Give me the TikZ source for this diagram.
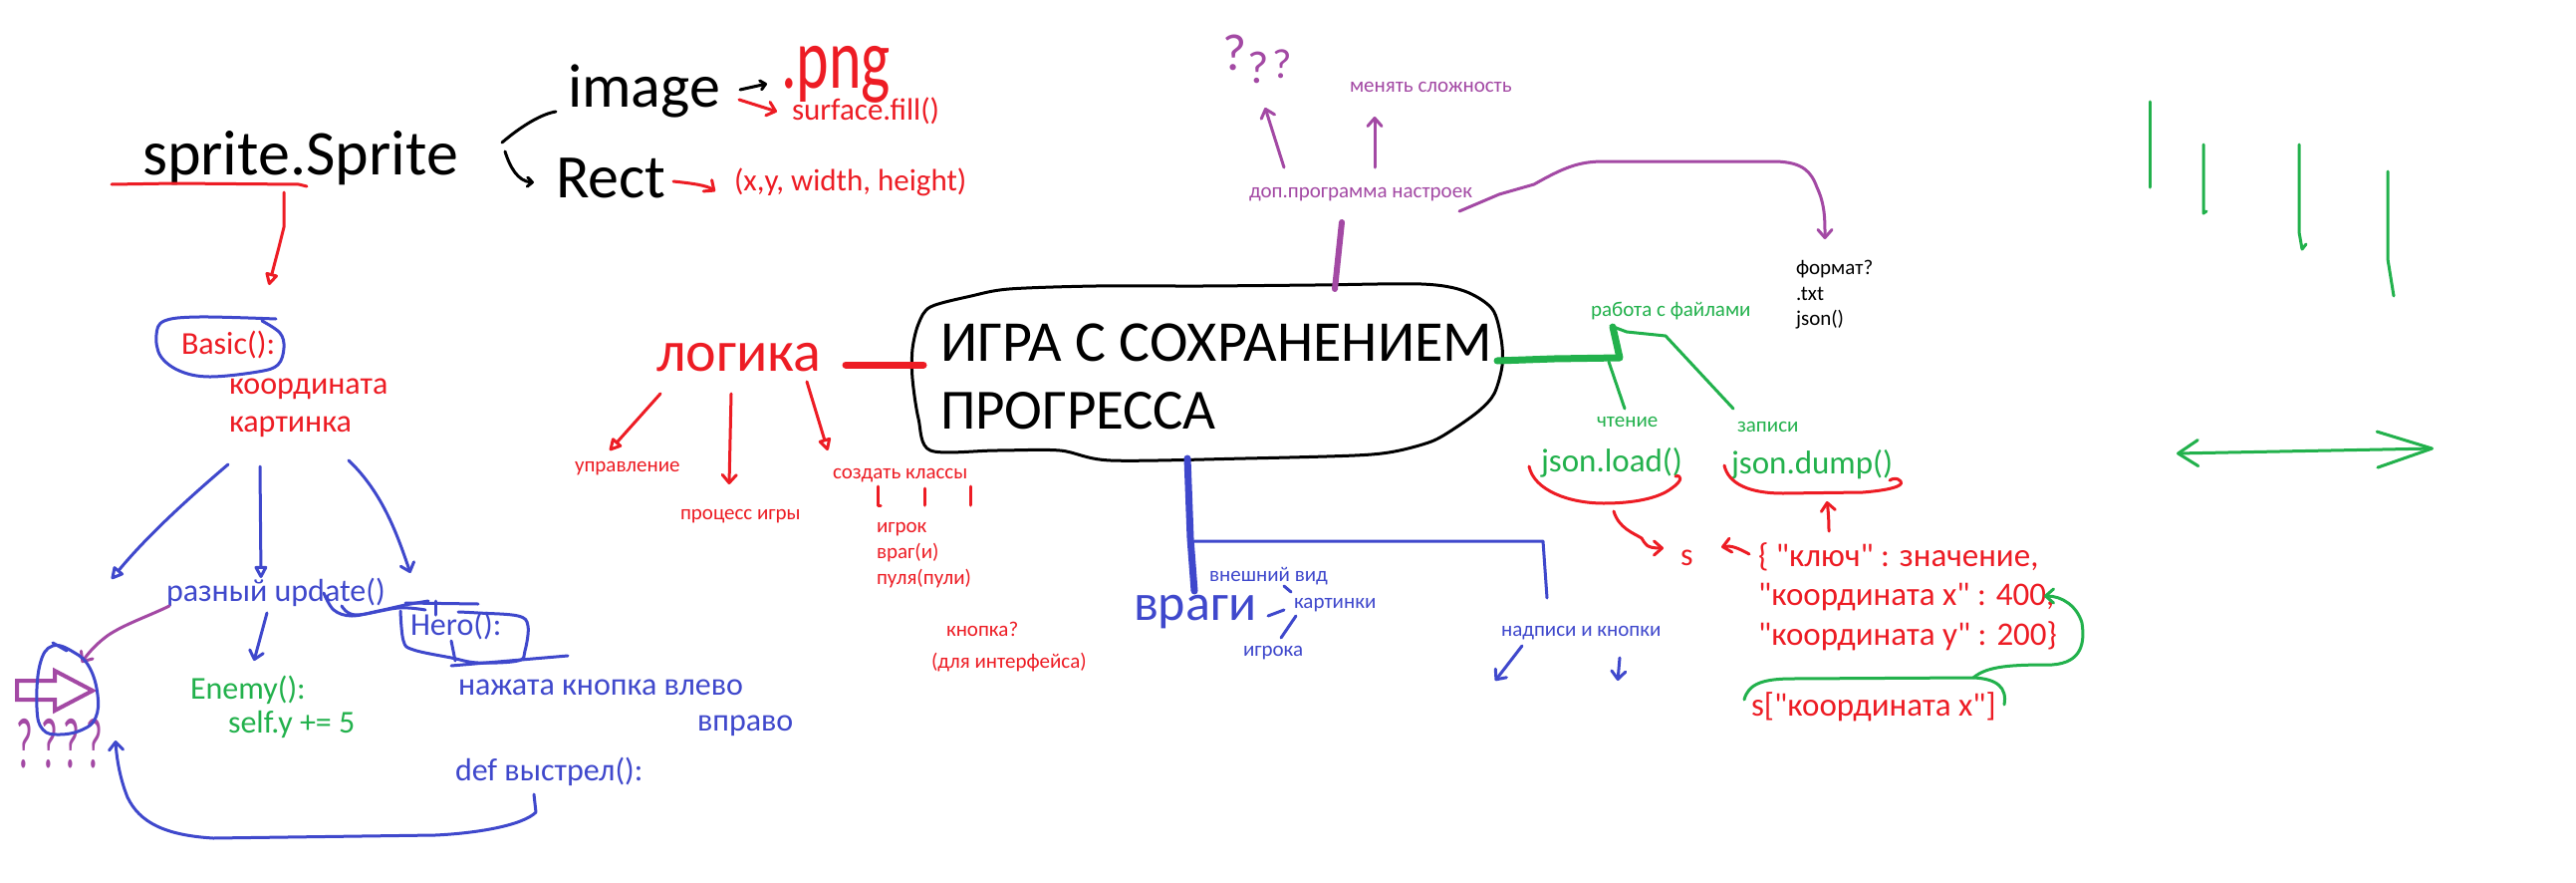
\documentclass[tikz,border=0pt]{standalone}
\usepackage{fontspec}
\setmainfont{Carlito}[Ligatures=TeXOff]
\usetikzlibrary{arrows.meta}
\definecolor{pred}{HTML}{ED1C24}
\definecolor{pblue}{HTML}{3F48CC}
\definecolor{pgreen}{HTML}{22B14C}
\definecolor{ppurple}{HTML}{A349A4}
\newcommand{\fs}[1]{\fontsize{#1}{#1}\selectfont}
\begin{document}
\begin{tikzpicture}[x=1pt,y=-1pt,
  txt/.style={inner sep=0pt,outer sep=0pt,anchor=base west},
  qm/.style={inner sep=0pt,outer sep=0pt,anchor=base,text=ppurple},
  pen/.style={line width=3pt,line cap=round,line join=round},
  fat/.style={line width=7pt,line cap=round,line join=round},
  barb/.style={-{Straight Barb[length=8pt,width=14pt,round]}},
  sbarb/.style={-{Straight Barb[length=5pt,width=9pt,round]}},
  tri/.style={-{Triangle[open,length=14pt,width=14pt,round]}},
  R/.style={text=pred},
  B/.style={text=pblue},
  G/.style={text=pgreen},
  P/.style={text=ppurple}]
\fill[white] (0,0) rectangle (2586,886);
\useasboundingbox (0,0) rectangle (2586,886);

% ---------- black texts ----------
\node[txt,font=\fs{64}] (sprite) at (143,175) {sprite.Sprite};
\node[txt,font=\fs{62}] (image) at (570,107) {image};
\node[txt,font=\fs{62}] (rect) at (558,198) {Rect};
\node[txt,font=\fs{58}] (t1) at (944,362) {ИГРА С СОХРАНЕНИЕМ};
\node[txt,font=\fs{57}] (t2) at (944,430) {ПРОГРЕССА};
\node[txt,font=\fs{21}] (fmt1) at (1803,275) {формат?};
\node[txt,font=\fs{21}] (fmt2) at (1803,301) {.txt};
\node[txt,font=\fs{21}] (fmt3) at (1803,326) {json()};

% ---------- red texts ----------
\node[txt,R] (png) at (784,88) {\scalebox{1}[1.4]{\fs{62}.png}};
\node[txt,R,font=\fs{31}] (fill) at (795,120) {surface.fill()};
\node[txt,R,font=\fs{31}] (xy) at (737,191) {(x,y, width, height)};
\node[txt,R,font=\fs{32}] (basic) at (182,355) {Basic():};
\node[txt,R,font=\fs{32}] (koord) at (230,395) {координата};
\node[txt,R,font=\fs{32}] (kart) at (230,433) {картинка};
\node[txt,R,font=\fs{58}] (logic) at (659,372) {логика};
\node[txt,R,font=\fs{21}] (upr) at (577,473) {управление};
\node[txt,R,font=\fs{21}] (proc) at (683,521) {процесс игры};
\node[txt,R,font=\fs{21}] (cls) at (836,480) {создать классы};
\node[txt,R,font=\fs{21}] (c1) at (880,534) {игрок};
\node[txt,R,font=\fs{21}] (c2) at (880,560) {враг(и)};
\node[txt,R,font=\fs{21}] (c3) at (880,586) {пуля(пули)};
\node[txt,R,font=\fs{21}] (btn1) at (950,638) {кнопка?};
\node[txt,R,font=\fs{21}] (btn2) at (935,670) {(для интерфейса)};
\node[txt,R,font=\fs{32}] (s) at (1687,567) {s};
\node[txt,R,font=\fs{33}] (d1) at (1765,568) {\{ "ключ" : значение,};
\node[txt,R,font=\fs{33}] (d2) at (1765,607) {"координата x" : 400,};
\node[txt,R,font=\fs{33}] (d3) at (1765,647) {"координата y" : 200\}};
\node[txt,R,font=\fs{33}] (sx) at (1758,718) {s["координата x"]};

% ---------- blue texts ----------
\node[txt,B,font=\fs{32}] (upd) at (167,603) {разный update()};
\node[txt,B,font=\fs{32}] (hero) at (412,637) {Hero():};
\node[txt,B,font=\fs{32}] (left) at (460,697) {нажата кнопка влево};
\node[txt,B,font=\fs{32}] (right) at (700,733) {вправо};
\node[txt,B,font=\fs{32}] (shot) at (457,783) {def выстрел():};
\node[txt,B,font=\fs{52}] (enemies) at (1138,622) {враги};
\node[txt,B,font=\fs{21}] (look) at (1214,583) {внешний вид};
\node[txt,B,font=\fs{21}] (pics) at (1299,610) {картинки};
\node[txt,B,font=\fs{21}] (plr) at (1248,658) {игрока};
\node[txt,B,font=\fs{21}] (labels) at (1507,638) {надписи и кнопки};

% ---------- green texts ----------
\node[txt,G,font=\fs{32}] (enemy) at (191,701) {Enemy():};
\node[txt,G,font=\fs{32}] (selfy) at (229,735) {self.y += 5};
\node[txt,G,font=\fs{21}] (files) at (1597,317) {работа с файлами};
\node[txt,G,font=\fs{21}] (read) at (1603,428) {чтение};
\node[txt,G,font=\fs{21}] (write) at (1744,433) {записи};
\node[txt,G,font=\fs{33}] (load) at (1547,473) {json.load()};
\node[txt,G,font=\fs{33}] (dump) at (1738,475) {json.dump()};

% ---------- purple texts ----------
\node[txt,P,font=\fs{21}] (diff) at (1355,92) {менять сложность};
\node[txt,P,font=\fs{21}] (sett) at (1254,198) {доп.программа настроек};
\node[qm,font=\fs{52}] (qa) at (1240,70) {?};
\node[qm,font=\fs{46}] (qb) at (1263,83) {?};
\node[qm,font=\fs{42}] (qc) at (1287,78) {?};
\node[qm] (q1) at (25,770) {\scalebox{0.5}[1]{\fs{72}?}};
\node[qm] (q2) at (50,770) {\scalebox{0.5}[1]{\fs{72}?}};
\node[qm] (q3) at (72,770) {\scalebox{0.5}[1]{\fs{72}?}};
\node[qm] (q4) at (95,770) {\scalebox{0.5}[1]{\fs{72}?}};

% ---------- connector end points ----------
\coordinate (s1) at (504,143); \coordinate (i1) at (558,112);
\coordinate (s2) at (507,152); \coordinate (r1) at (536,183);
\coordinate (i2) at (743,90);  \coordinate (p1) at (770,84);
\coordinate (i3) at (742,100); \coordinate (f1) at (780,112);
\coordinate (r2) at (676,182); \coordinate (x1) at (718,192);
\coordinate (s3) at (285,193); \coordinate (b1) at (270,286);
\coordinate (l0) at (849,366); \coordinate (bubL) at (927,366);
\coordinate (l1) at (663,395); \coordinate (u1) at (612,452);
\coordinate (l2) at (734,395); \coordinate (pr1) at (732,486);
\coordinate (l3) at (810,383); \coordinate (cl1) at (831,452);
\coordinate (ld1) at (1620,513); \coordinate (s4) at (1670,550);
\coordinate (d1w) at (1756,556); \coordinate (s5) at (1728,549);
\coordinate (d1n) at (1836,533); \coordinate (dp1) at (1834,503);
\coordinate (bubR) at (1503,362); \coordinate (fj) at (1619,328);
\coordinate (fj2) at (1617,327); \coordinate (wr) at (1740,410);
\coordinate (fj3) at (1615,363); \coordinate (rd) at (1631,410);
\coordinate (sxa) at (1981,680); \coordinate (d2e) at (2052,598);
\coordinate (bubT) at (1340,290); \coordinate (st1) at (1347,223);
\coordinate (st2) at (1289,168); \coordinate (qq) at (1270,108);
\coordinate (st3) at (1380,168); \coordinate (df1) at (1380,117);
\coordinate (st4) at (1465,212); \coordinate (fm1) at (1832,240);
\coordinate (up1) at (170,608); \coordinate (egg1) at (82,665);
\coordinate (bs1) at (229,466); \coordinate (egg2) at (112,581);
\coordinate (bs2) at (261,468); \coordinate (up2) at (262,580);
\coordinate (bs3) at (350,462); \coordinate (hr1) at (412,575);
\coordinate (up3) at (268,615); \coordinate (en1) at (255,663);
\coordinate (sh1) at (536,797); \coordinate (egg3) at (116,743);
\coordinate (bubB) at (1192,460); \coordinate (vr1) at (1199,593);
\coordinate (lb1) at (1528,648); \coordinate (lb2) at (1501,683);
\coordinate (lb3) at (1626,660); \coordinate (lb4) at (1624,683);
\coordinate (da) at (2185,455); \coordinate (db) at (2443,450);

% ---------- black strokes ----------
\draw[pen] (s1) .. controls (525,125) and (545,114) .. (i1);
\draw[pen,sbarb] (s2) .. controls (512,168) and (520,182) .. (r1);
\draw[pen,sbarb] (i2) -- (p1);
\draw[pen] plot[smooth cycle,tension=0.5] coordinates {(934,308) (975,297) (1013,290) (1100,287) (1207,287) (1320,286) (1427,285) (1470,292) (1498,310) (1507,340) (1508,367) (1500,395) (1485,412) (1460,430) (1437,443) (1400,453) (1360,457) (1250,460) (1115,462) (1064,452) (1000,452) (934,452) (922,420) (916,380) (916,350) (922,325)};

% ---------- red strokes ----------
\draw[pen,pred] (112,185) -- (175,184) -- (300,185) -- (308,187);
\draw[pen,pred,tri] (s3) -- (285,228) -- (280,248) -- (b1);
\draw[pen,pred,barb] (i3) -- (f1);
\draw[pen,pred,barb] (r2) .. controls (695,184) and (710,186) .. (x1);
\draw[fat,pred] (l0) -- (bubL);
\draw[pen,pred,tri] (l1) -- (u1);
\draw[pen,pred,barb] (l2) -- (pr1);
\draw[pen,pred,tri] (l3) -- (cl1);
\draw[pen,pred] (881,488) -- (881,507) -- (884,507);
\draw[pen,pred] (928,490) -- (928,507);
\draw[pen,pred] (974,488) -- (974,507);
\draw[pen,pred] (1535,468) .. controls (1540,492) and (1575,505) .. (1610,505) .. controls (1640,505) and (1665,500) .. (1678,490) .. controls (1690,482) and (1688,476) .. (1682,478);
\draw[pen,pred] (1731,467) .. controls (1735,485) and (1755,495) .. (1790,495) -- (1870,494) .. controls (1895,492) and (1912,488) .. (1908,483) .. controls (1905,479) and (1900,480) .. (1897,482);
\draw[pen,pred,barb] (ld1) .. controls (1625,530) and (1640,535) .. (1648,540) .. controls (1652,546) and (1652,550) .. (s4);
\draw[pen,pred,barb] (d1w) .. controls (1745,550) and (1738,547) .. (s5);
\draw[pen,pred,barb] (d1n) .. controls (1836,520) and (1835,510) .. (dp1);

% ---------- green strokes ----------
\draw[fat,pgreen] (bubR) -- (1560,360) -- (1626,359) -- (fj);
\draw[pen,pgreen] (fj2) -- (1633,333) -- (1672,337) -- (wr);
\draw[pen,pgreen] (fj3) -- (rd);
\draw[pen,pgreen] (1751,702) .. controls (1755,686) and (1770,681) .. (1800,681) -- (sxa) .. controls (2005,681) and (2015,690) .. (2012,707);
\draw[pen,pgreen,barb] (sxa) .. controls (1995,668) and (2020,667) .. (2060,667) .. controls (2090,665) and (2093,645) .. (2090,625) .. controls (2085,608) and (2070,598) .. (d2e);
\draw[pen,pgreen] (2158,102) -- (2158,188);
\draw[pen,pgreen] (2212,145) -- (2212,214) -- (2215,212);
\draw[pen,pgreen] (2308,145) -- (2308,233) -- (2311,250) -- (2315,245);
\draw[pen,pgreen] (2397,172) -- (2397,260) -- (2403,297);
\draw[pen,pgreen,{Straight Barb[length=20pt,width=26pt,round]}-{Straight Barb[length=55pt,width=36pt,round]}] (da) -- (db);

% ---------- purple strokes ----------
\draw[line width=6pt,line cap=round,ppurple] (st1) -- (bubT);
\draw[pen,ppurple,barb] (st2) -- (qq);
\draw[pen,ppurple,barb] (st3) -- (df1);
\draw[pen,ppurple,barb] (st4) -- (1505,195) -- (1540,185) .. controls (1570,168) and (1585,162) .. (1610,162) -- (1783,162) .. controls (1810,163) and (1818,172) .. (1824,188) .. controls (1832,205) and (1832,220) .. (fm1);
\draw[pen,ppurple,barb] (up1) .. controls (150,618) and (120,628) .. (105,640) .. controls (95,648) and (88,656) .. (egg1);
\draw[line width=4pt,ppurple,line join=miter] (17,683) -- (55,683) -- (55,673) -- (93,693) -- (55,713) -- (55,702) -- (17,702) -- cycle;

% ---------- blue strokes ----------
\draw[pen,pblue] plot[smooth,tension=0.6] coordinates {(277,320) (200,318) (165,322) (157,336) (161,357) (180,372) (210,378) (259,373) (279,366) (285,349) (281,334) (263,322)};
\draw[pen,pblue] plot[smooth cycle,tension=0.7] coordinates {(53,648) (75,655) (90,670) (98,697) (96,720) (83,732) (60,737) (43,732) (37,710) (40,667)};
\draw[pen,pblue] (53,645) -- (67,653);
\draw[pen,pblue,tri] (bs1) .. controls (195,495) and (150,535) .. (egg2);
\draw[pen,pblue,tri] (bs2) -- (up2);
\draw[pen,pblue,barb] (bs3) .. controls (385,495) and (400,540) .. (hr1);
\draw[pen,pblue,barb] (up3) -- (en1);
\draw[pen,pblue] plot[smooth,tension=0.6] coordinates {(325,595) (335,612) (353,618) (380,613) (407,607) (430,603)};
\draw[pen,pblue] plot[smooth,tension=0.6] coordinates {(343,608) (357,617) (400,610) (427,612)};
\draw[pen,pblue] (407,605) -- (480,606);
\draw[pen,pblue] (437,603) -- (437,617);
\draw[pen,pblue] plot[smooth,tension=0.6] coordinates {(402,613) (405,643) (415,652) (453,660) (480,665) (520,663) (527,653) (530,628) (520,618) (480,615) (460,614)};
\draw[pen,pblue] (453,668) -- (570,658);
\draw[pen,pblue] (453,643) -- (457,663);
\draw[pen,pblue,barb] (sh1) -- (538,815) .. controls (525,828) and (480,836) .. (437,838) -- (214,841) .. controls (165,838) and (140,825) .. (128,800) .. controls (120,780) and (117,760) .. (egg3);
\draw[fat,pblue] (bubB) -- (1195,540) -- (vr1);
\draw[pen,pblue] (1199,543) -- (1549,543) -- (1553,600);
\draw[pen,pblue] (1289,588) -- (1296,594);
\draw[pen,pblue] (1273,618) -- (1289,612);
\draw[pen,pblue] (1286,640) -- (1301,618);
\draw[pen,pblue,barb] (lb1) -- (lb2);
\draw[pen,pblue,barb] (lb3) -- (lb4);
\end{tikzpicture}
\end{document}
